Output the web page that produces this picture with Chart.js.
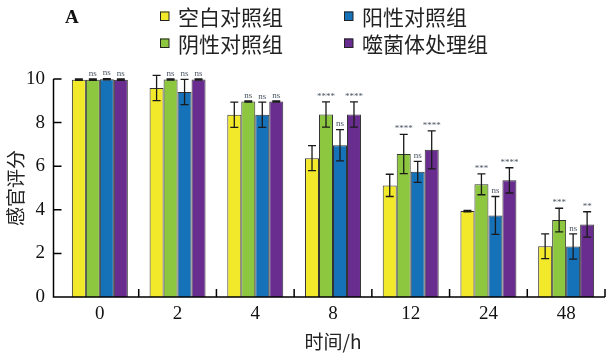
<!DOCTYPE html>
<html><head><meta charset="utf-8">
<script src="https://cdn.jsdelivr.net/npm/chart.js@4"></script>
<style>html,body{margin:0;padding:0;background:#fff}</style>
</head><body>
<canvas id="c" width="613" height="357"></canvas>
<script>
const categories = ['0','2','4','8','12','24','48'];
const seriesNames = ['空白对照组','阴性对照组','阳性对照组','噬菌体处理组'];
const blankVals = [9.97, 9.59, 8.36, 6.37, 5.12, 3.94, 2.33];
const blankErr  = [0.03, 0.58, 0.58, 0.57, 0.51, 0.03, 0.57];
const negVals   = [9.97, 9.98, 8.97, 8.37, 6.56, 5.17, 3.53];
const negErr    = [0.03, 0.03, 0.03, 0.58, 0.90, 0.48, 0.54];
const posVals   = [9.99, 9.40, 8.36, 6.96, 5.74, 3.74, 2.32];
const posErr    = [0.03, 0.58, 0.58, 0.72, 0.48, 0.87, 0.58];
const phageVals = [9.97, 9.98, 8.97, 8.37, 6.75, 5.35, 3.33];
const phageErr  = [0.03, 0.03, 0.03, 0.58, 0.87, 0.58, 0.58];
const negSig   = ['ns','ns','ns','****','****','***','***'];
const posSig   = ['ns','ns','ns','ns','ns','ns','ns'];
const phageSig = ['ns','ns','ns','****','****','****','**'];
const yTickValues = [0,2,4,6,8,10];
const legendOrder = [0,2,1,3];
const colors = ['#F3E92B','#8DC63F','#1571B8','#682D8E'];

const CJK = '"Noto Sans CJK SC"';
const SERIF = '"Liberation Serif"';

const decor = {
  id: 'decor',
  afterDatasetsDraw(chart) {
    const ctx = chart.ctx, xs = chart.scales.x, ys = chart.scales.y, ca = chart.chartArea;
    ctx.save();
    chart.data.datasets.forEach((ds, di) => {
      const meta = chart.getDatasetMeta(di);
      meta.data.forEach((bar, i) => {
        const v = ds.data[i], e = ds.errors[i];
        const yt = ys.getPixelForValue(v + e), yb = ys.getPixelForValue(v - e);
        ctx.strokeStyle = '#1a1a1a'; ctx.lineWidth = 1.3;
        ctx.beginPath();
        ctx.moveTo(bar.x, yt); ctx.lineTo(bar.x, yb);
        ctx.moveTo(bar.x - 4, yt); ctx.lineTo(bar.x + 4, yt);
        ctx.moveTo(bar.x - 4, yb); ctx.lineTo(bar.x + 4, yb);
        ctx.stroke();
        if (ds.sig) {
          ctx.fillStyle = '#4b5563';
          ctx.font = '9px ' + SERIF;
          ctx.textAlign = 'center'; ctx.textBaseline = 'bottom';
          ctx.fillText(ds.sig[i], bar.x, yt - 1);
        }
      });
    });
    // axes
    const ax = ca.left - 7.5;
    const y0 = ys.getPixelForValue(0), y10 = ys.getPixelForValue(10);
    ctx.strokeStyle = '#000'; ctx.lineWidth = 1.5;
    ctx.beginPath();
    ctx.moveTo(ax, y10); ctx.lineTo(ax, y0); ctx.lineTo(ca.right, y0);
    yTickValues.forEach(t => { const p = ys.getPixelForValue(t); ctx.moveTo(ax, p); ctx.lineTo(ax + 8, p); });
    const n = categories.length;
    for (let i = 0; i < n; i++) {
      const bx = xs.getPixelForValue(i) + (ca.right - ca.left) / n / 2;
      ctx.moveTo(bx, y0); ctx.lineTo(bx, y0 - 8);
    }
    ctx.stroke();
    ctx.restore();
  },
  afterDraw(chart) {
    const ctx = chart.ctx;
    ctx.save();
    ctx.fillStyle = '#111';
    ctx.font = 'bold 19px ' + SERIF;
    ctx.textAlign = 'left'; ctx.textBaseline = 'middle';
    ctx.fillText('A', 65, 18);
    const colX = [160, 344], rowY = [16, 43];
    legendOrder.forEach((di, k) => {
      const ds = chart.data.datasets[di];
      const x = colX[k % 2], y = rowY[Math.floor(k / 2)];
      ctx.fillStyle = ds.backgroundColor;
      ctx.fillRect(x, y - 4.5, 9, 9);
      ctx.strokeStyle = '#222'; ctx.lineWidth = 1;
      ctx.strokeRect(x + 0.5, y - 4, 8.5, 8.5);
      ctx.fillStyle = '#222';
      ctx.font = '21px ' + CJK;
      ctx.textBaseline = 'middle';
      ctx.fillText(ds.label, x + 18, y + 1);
    });
    ctx.restore();
  }
};

const mk = (i, vals, errs, sig) => ({
  label: seriesNames[i], data: vals, errors: errs, sig: sig,
  backgroundColor: colors[i], borderColor: '#333', borderWidth: 1,
  categoryPercentage: 0.72, barPercentage: 1.0
});

new Chart(document.getElementById('c'), {
  type: 'bar',
  data: {
    labels: categories,
    datasets: [
      mk(0, blankVals, blankErr, null),
      mk(1, negVals, negErr, negSig),
      mk(2, posVals, posErr, posSig),
      mk(3, phageVals, phageErr, phageSig)
    ]
  },
  options: {
    responsive: false, animation: false, devicePixelRatio: 1,
    layout: { padding: { left: 0, right: 8, top: 79, bottom: 0 } },
    plugins: { legend: { display: false }, tooltip: { enabled: false } },
    scales: {
      x: {
        grid: { display: false, drawTicks: false }, border: { display: false },
        ticks: { color: '#111', font: { family: 'Liberation Serif', size: 19 }, padding: 6 },
        title: { display: true, text: '时间/h', color: '#222', font: { family: 'Noto Sans CJK SC', size: 19 }, padding: { top: 0, bottom: 4 } },
        afterFit: s => { s.height = 60; }
      },
      y: {
        min: 0, max: 10,
        grid: { display: false, drawTicks: false }, border: { display: false },
        ticks: { stepSize: 2, color: '#111', font: { family: 'Liberation Serif', size: 19 }, padding: 16 },
        title: { display: true, text: '感官评分', color: '#222', font: { family: 'Noto Sans CJK SC', size: 19 }, padding: { top: 4, bottom: 0 } },
        afterFit: s => { s.width = 61; }
      }
    }
  },
  plugins: [decor]
});
</script>
</body></html>
